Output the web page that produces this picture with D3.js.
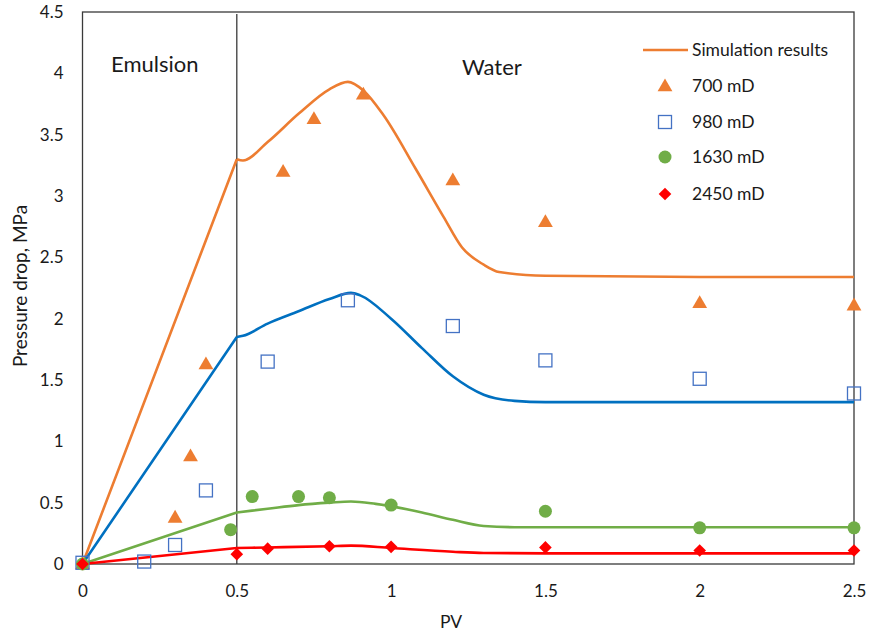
<!DOCTYPE html>
<html>
<head>
<meta charset="utf-8">
<script src="https://cdn.jsdelivr.net/npm/d3@7/dist/d3.min.js"></script>
<style>
  html, body { margin: 0; padding: 0; background: #fff; }
  svg { display: block; font-family: Lato, "Open Sans", sans-serif; }
</style>
</head>
<body>
<svg id="chart" width="871" height="636"></svg>
<script>
// Measured pressure drop (PV, MPa) for each core permeability
const perm700 = [[0,0],[0.3,0.38],[0.35,0.88],[0.4,1.63],[0.65,3.2],[0.75,3.63],[0.91,3.83],[1.2,3.13],[1.5,2.79],[2.0,2.13],[2.5,2.11]];
const perm980 = [[0,0.01],[0.2,0.02],[0.3,0.155],[0.4,0.6],[0.6,1.65],[0.86,2.15],[1.2,1.94],[1.5,1.66],[2.0,1.51],[2.5,1.39]];
const perm1630 = [[0,0],[0.48,0.28],[0.55,0.55],[0.7,0.55],[0.8,0.54],[1.0,0.48],[1.5,0.43],[2.0,0.295],[2.5,0.295]];
const perm2450 = [[0,0],[0.5,0.08],[0.6,0.125],[0.8,0.145],[1.0,0.14],[1.5,0.135],[2.0,0.11],[2.5,0.11]];

// Simulated pressure drop curves
const sim700 = [[0,0],[0.5,3.30],[0.52,3.29],[0.6,3.44],[0.7,3.67],[0.8,3.87],[0.86,3.93],[0.91,3.86],[0.975,3.66],[1.08,3.22],[1.17,2.83],[1.23,2.58],[1.3,2.44],[1.35,2.38],[1.5,2.35],[2.0,2.34],[2.5,2.34]];
const sim980 = [[0,0],[0.5,1.85],[0.52,1.86],[0.6,1.96],[0.7,2.06],[0.8,2.16],[0.87,2.21],[0.9,2.19],[1.0,2.0],[1.1,1.76],[1.2,1.53],[1.3,1.38],[1.4,1.33],[1.5,1.32],[2.5,1.32]];
const sim1630 = [[0,0],[0.5,0.42],[0.6,0.45],[0.7,0.48],[0.8,0.50],[0.87,0.51],[0.95,0.49],[1.1,0.42],[1.2,0.36],[1.3,0.31],[1.4,0.30],[2.5,0.30]];
const sim2450 = [[0,0],[0.5,0.13],[0.6,0.135],[0.8,0.145],[0.87,0.15],[1.0,0.13],[1.2,0.10],[1.3,0.09],[1.5,0.087],[2.5,0.087]];

const xTicks = [0, 0.5, 1, 1.5, 2, 2.5];
const yTicks = [0, 0.5, 1, 1.5, 2, 2.5, 3, 3.5, 4, 4.5];
const legendLabels = ["Simulation results", "700 mD", "980 mD", "1630 mD", "2450 mD"];

(function draw() {
  const svg = d3.select("#chart");
  const pl = 82.5, pr = 854, pt = 12, pb = 564;
  const x = d3.scaleLinear().domain([0, 2.5]).range([pl, pr]);
  const y = d3.scaleLinear().domain([0, 4.5]).range([pb, pt]);
  const textColor = "#1a1a1a";
  const frameColor = "#3a3a3a";

  // Frame
  svg.append("rect").attr("x", pl).attr("y", pt).attr("width", pr - pl).attr("height", pb - pt)
    .attr("fill", "none").attr("stroke", frameColor).attr("stroke-width", 1.3);

  // Axes (labels only, no tick marks)
  const xAxis = d3.axisBottom(x).tickValues(xTicks).tickSize(0).tickPadding(21).tickFormat(d3.format("~g"));
  const gx = svg.append("g").attr("transform", `translate(0,${pb})`).call(xAxis);
  const yAxis = d3.axisLeft(y).tickValues(yTicks).tickSize(0).tickPadding(19).tickFormat(d3.format("~g"));
  const gy = svg.append("g").attr("transform", `translate(${pl},0)`).call(yAxis);
  [gx, gy].forEach(g => {
    g.select(".domain").remove();
    g.selectAll("text").attr("font-size", 17).attr("fill", textColor).attr("font-family", "Lato, sans-serif");
  });

  // Emulsion / water boundary
  svg.append("line").attr("x1", x(0.5)).attr("x2", x(0.5)).attr("y1", pt + 2).attr("y2", pb)
    .attr("stroke", frameColor).attr("stroke-width", 1.3);

  svg.append("text").attr("x", 111).attr("y", 72).attr("font-size", 22).attr("fill", textColor).text("Emulsion");
  svg.append("text").attr("x", 462).attr("y", 75).attr("font-size", 22).attr("fill", textColor).text("Water");

  // Axis titles
  svg.append("text").attr("x", 451).attr("y", 628).attr("text-anchor", "middle")
    .attr("font-size", 17.5).attr("fill", textColor).text("PV");
  svg.append("text").attr("transform", "translate(27,286) rotate(-90)").attr("text-anchor", "middle")
    .attr("font-size", 19).attr("fill", textColor).text("Pressure drop, MPa");

  // Simulation curves: straight during emulsion injection, smooth during water flooding
  const straight = d3.line().x(d => x(d[0])).y(d => y(d[1]));
  const smooth = d3.line().x(d => x(d[0])).y(d => y(d[1])).curve(d3.curveMonotoneX);
  const sims = [
    { data: sim700, color: "#ED7D31" },
    { data: sim980, color: "#0070C0" },
    { data: sim1630, color: "#70AD47" },
    { data: sim2450, color: "#FF0000" }
  ];
  sims.forEach(s => {
    const d1 = s.data.filter(d => d[0] <= 0.5);
    const d2 = s.data.filter(d => d[0] >= 0.5);
    svg.append("path").attr("d", straight(d1) + smooth(d2)).attr("fill", "none")
      .attr("stroke", s.color).attr("stroke-width", 2.6).attr("stroke-linejoin", "round");
  });

  // Marker drawers
  const tri = d3.symbol().type(d3.symbolTriangle).size(95);
  const dia = d3.symbol().type(d3.symbolSquare).size(80);
  function drawTri(g, px, py) {
    g.append("path").attr("d", tri()).attr("transform", `translate(${px},${py + 1})`).attr("fill", "#ED7D31");
  }
  function drawSquare(g, px, py) {
    g.append("rect").attr("x", px - 6.5).attr("y", py - 6.5).attr("width", 13).attr("height", 13)
      .attr("fill", "none").attr("stroke", "#4472C4").attr("stroke-width", 1.3);
  }
  function drawCircle(g, px, py) {
    g.append("circle").attr("cx", px).attr("cy", py).attr("r", 6.5).attr("fill", "#70AD47");
  }
  function drawDiamond(g, px, py) {
    g.append("path").attr("d", dia()).attr("transform", `translate(${px},${py}) rotate(45)`).attr("fill", "#FF0000");
  }

  const pts = svg.append("g");
  perm700.forEach(d => drawTri(pts, x(d[0]), y(d[1])));
  perm980.forEach(d => drawSquare(pts, x(d[0]), y(d[1])));
  perm1630.forEach(d => drawCircle(pts, x(d[0]), y(d[1])));
  perm2450.forEach(d => drawDiamond(pts, x(d[0]), y(d[1])));

  // Legend
  const lg = svg.append("g");
  const legY = [50, 86, 122, 157, 194];
  lg.append("line").attr("x1", 643).attr("x2", 688).attr("y1", legY[0]).attr("y2", legY[0])
    .attr("stroke", "#ED7D31").attr("stroke-width", 2.6);
  drawTri(lg, 665, legY[1]);
  drawSquare(lg, 665, legY[2]);
  drawCircle(lg, 665, legY[3]);
  drawDiamond(lg, 665, legY[4]);
  legendLabels.forEach((t, i) => {
    lg.append("text").attr("x", 692).attr("y", legY[i] + 6).attr("font-size", 17.5).attr("fill", textColor).text(t);
  });
})();
</script>
</body>
</html>
